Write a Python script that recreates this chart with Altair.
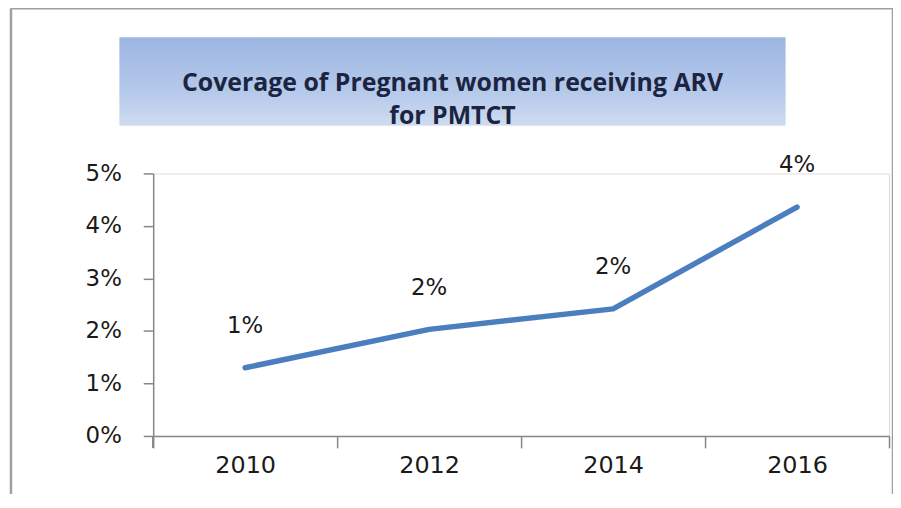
import altair as alt
import pandas as pd

years = ["2010", "2012", "2014", "2016"]
coverage = [0.013, 0.0203, 0.0242, 0.0436]
title_lines = ["Coverage of Pregnant women receiving ARV", "for PMTCT"]
y_ticks = [0, 0.01, 0.02, 0.03, 0.04, 0.05]

df = pd.DataFrame({"year": years, "value": coverage})

W, H = 740, 264
FONT = "DejaVu Sans"
AXIS_GRAY = "#878787"

x_enc = alt.X("year:O", bandPosition=0.5,
              scale=alt.Scale(type="band", paddingInner=0, paddingOuter=0),
              axis=alt.Axis(title=None, labelAngle=0, tickBand="extent", tickSize=12,
                            domainColor=AXIS_GRAY, tickColor=AXIS_GRAY, domainWidth=1.5,
                            tickWidth=1.5, labelFont=FONT, labelFontSize=24,
                            labelColor="#1a1a1a", labelPadding=6))
y_enc = alt.Y("value:Q", scale=alt.Scale(domain=[0, 0.05], nice=False),
              axis=alt.Axis(title=None, values=y_ticks, format=".0%", tickSize=10,
                            domainColor=AXIS_GRAY, tickColor=AXIS_GRAY, domainWidth=1.5,
                            tickWidth=1.5, labelFont=FONT, labelFontSize=23,
                            labelColor="#1a1a1a", labelPadding=22, grid=False))

base = alt.Chart(df)

line = base.mark_line(color="#4A7EBF", strokeWidth=5.5, strokeCap="round",
                      strokeJoin="round").encode(x=x_enc, y=y_enc)
labels = base.mark_text(dy=-42, font=FONT, fontSize=23, color="#1a1a1a").encode(
    x=x_enc, y=y_enc, text=alt.Text("value:Q", format=".0%"))

# extension of y axis line below the x axis
yext = base.mark_rule(color=AXIS_GRAY, strokeWidth=1.5).encode(
    x=alt.value(0), y=alt.value(H), y2=alt.value(H + 12))

# outer frame
frame_df = pd.DataFrame({"k": [0]})
fr = alt.Chart(frame_df)
frame_left = fr.mark_rule(color="#a0a0a0", strokeWidth=2.5).encode(
    x=alt.value(-143), y=alt.value(-166), y2=alt.value(H + 80))
frame_right = fr.mark_rule(color="#a0a0a0", strokeWidth=2.5).encode(
    x=alt.value(744), y=alt.value(-166), y2=alt.value(H + 80))
frame_top = fr.mark_rule(color="#a0a0a0", strokeWidth=2.5).encode(
    x=alt.value(-143), x2=alt.value(744), y=alt.value(-166))

# title box
box = fr.mark_rect(
    fill=alt.Gradient(gradient="linear", x1=0, y1=0, x2=0, y2=1,
                      stops=[alt.GradientStop(color="#9DB6E2", offset=0),
                             alt.GradientStop(color="#B4C8EA", offset=0.6),
                             alt.GradientStop(color="#CFDCF1", offset=1)])
).encode(x=alt.value(-34), x2=alt.value(636), y=alt.value(-137), y2=alt.value(-48))

tdf = pd.DataFrame({"t": ["\n".join(title_lines)]})
title_text = alt.Chart(tdf).mark_text(font="Open Sans", fontSize=25, fontWeight="bold",
                                      color="#1B2440", baseline="middle",
                                      lineBreak="\n", lineHeight=33).encode(
    x=alt.value(301), y=alt.value(-91), text="t:N")

chart = alt.layer(frame_left, frame_right, frame_top, box, title_text, yext, line, labels).properties(
    width=W, height=H,
    autosize=alt.AutoSizeParams(type="none"),
    padding={"left": 146, "top": 165, "right": 4, "bottom": 57},
).configure_view(stroke=None).configure(background="white")

chart.save("out.html", embed_options={"renderer": "svg", "actions": False})
